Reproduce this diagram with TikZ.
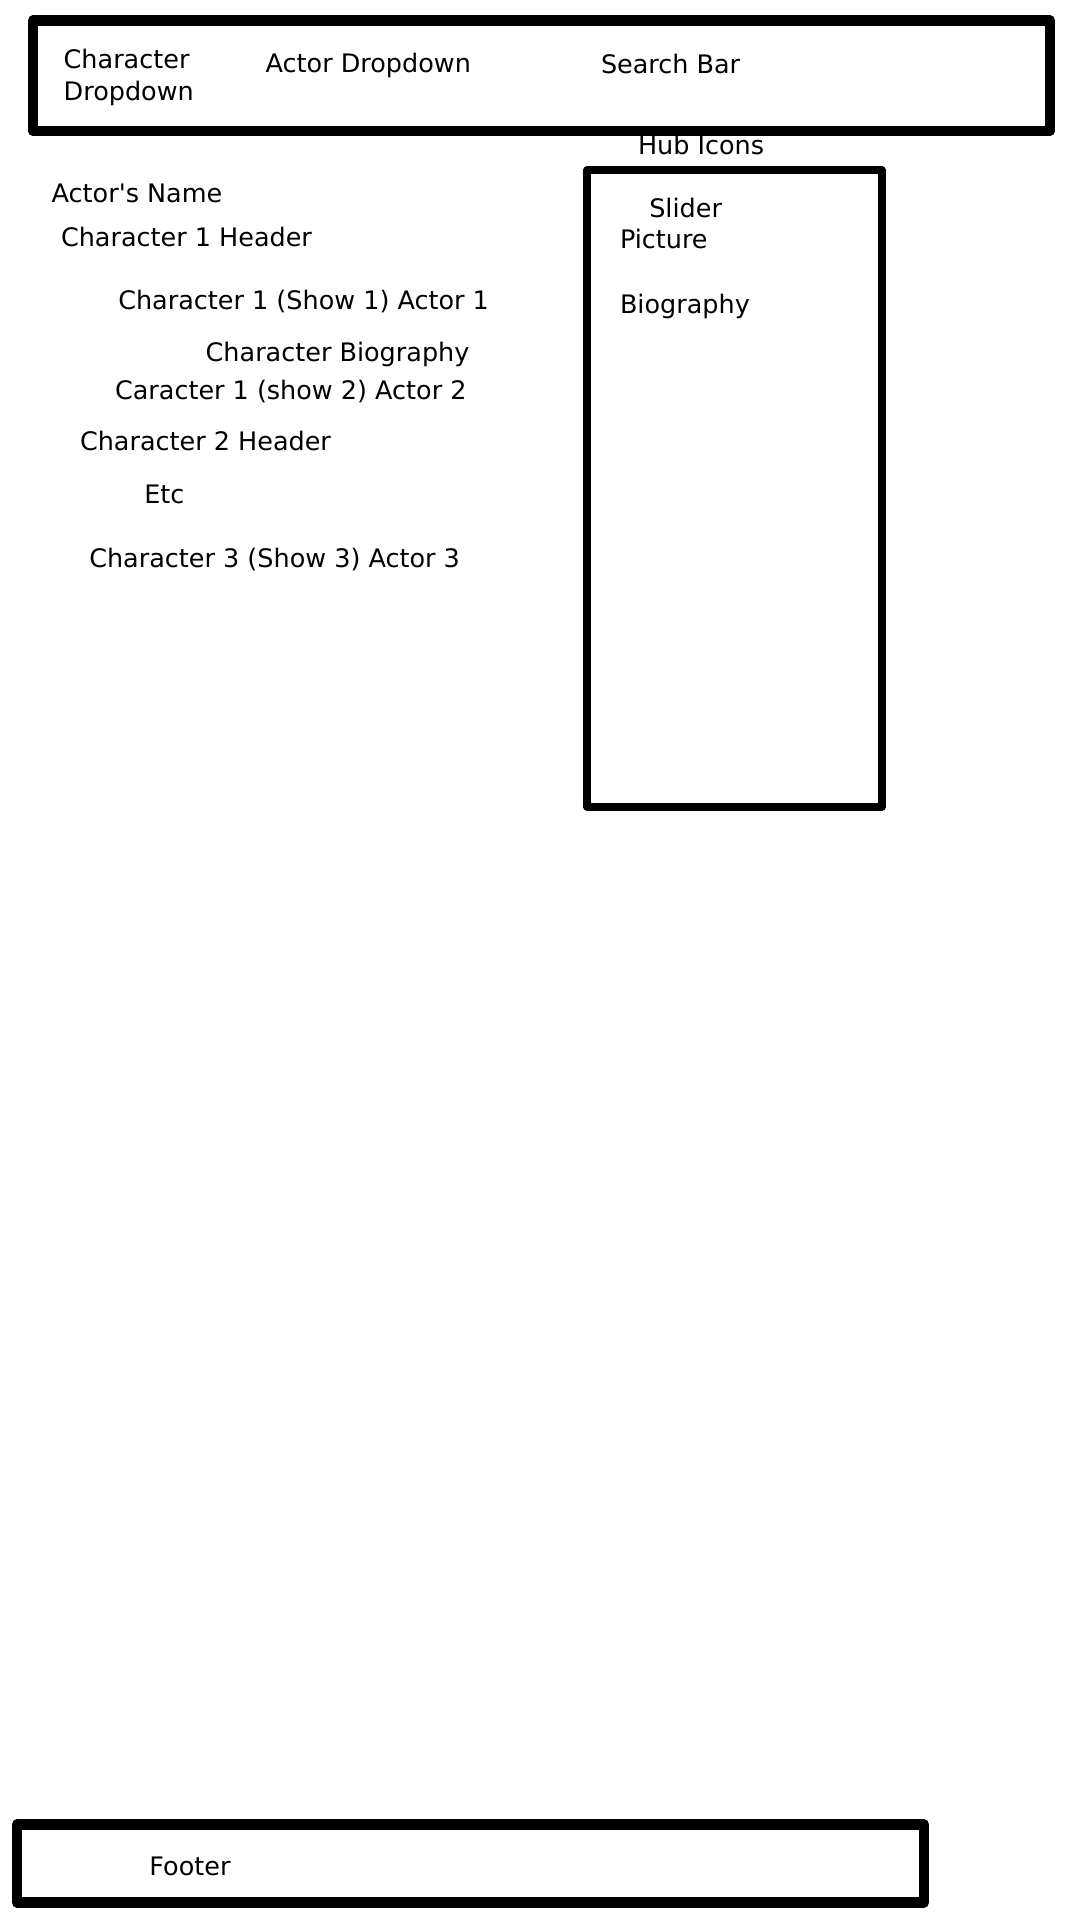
\documentclass[tikz,border=0pt]{standalone}
\usepackage{fontspec}
\setmainfont{DejaVu Sans}
\usetikzlibrary{positioning}

\begin{document}
\begin{tikzpicture}[
 frame/.style={draw=black,line width=3.0pt,line join=round,inner sep=0pt},
 thinframe/.style={frame,line width=2.0pt},
 lbl/.style={anchor=base west,inner sep=0pt,outer sep=0pt,align=left,font=\fontsize{7.25}{9.1}\selectfont}]
\useasboundingbox (0,0) rectangle (10.8,-19.2);

% header bar
\node[frame,minimum width=10.17cm,minimum height=1.105cm] (topbar) at (5.415,-0.7575) {};
\node[lbl] (chardrop) at (0.637,-1.003) {Character\\Dropdown};
\node[lbl] (actordrop) at (2.657,-0.727) {Actor Dropdown};
\node[lbl] (search) at (6.01,-0.74) {Search Bar};

% side panel
\node[lbl] (hubicons) at (6.38,-1.55) {Hub Icons};
\node[thinframe,minimum width=2.95cm,minimum height=6.37cm] (side) at (7.345,-4.885) {};
\node[lbl] (slider) at (6.493,-2.173) {Slider};
\node[lbl] (picture) at (6.20,-2.49) {Picture};
\node[lbl] (bio) at (6.20,-3.133) {Biography};

% main column
\node[lbl] (actorname) at (0.517,-2.023) {Actor\textquotesingle s Name};
\node[lbl] (ch1head) at (0.61,-2.467) {Character 1 Header};
\node[lbl] (ch1show1) at (1.183,-3.093) {Character 1 (Show 1) Actor 1};
\node[lbl] (charbio) at (2.057,-3.617) {Character Biography};
\node[lbl] (ch1show2) at (1.15,-4.00) {Caracter 1 (show 2) Actor 2};
\node[lbl] (ch2head) at (0.80,-4.51) {Character 2 Header};
\node[lbl] (etc) at (1.443,-5.033) {Etc};
\node[lbl] (ch3show3) at (0.893,-5.673) {Character 3 (Show 3) Actor 3};

% footer
\node[frame,minimum width=9.07cm,minimum height=0.778cm] (footbar) at (4.705,-18.636) {};
\node[lbl] (footer) at (1.494,-18.75) {Footer};
\end{tikzpicture}
\end{document}
